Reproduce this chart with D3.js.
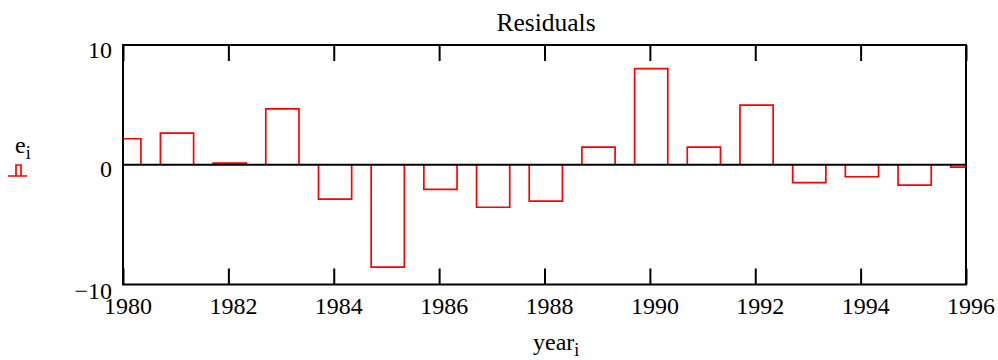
<!DOCTYPE html>
<html>
<head>
<meta charset="utf-8">
<script src="https://cdn.jsdelivr.net/npm/d3@7"></script>
<style>
  body { margin: 0; background: #fff; }
  svg { display: block; }
  svg text { font-family: "Liberation Serif", "Times New Roman", serif; fill: #000; }
</style>
</head>
<body>
<div id="chart"></div>
<script>
// residuals e_i per year_i
const years = [1980, 1981, 1982, 1983, 1984, 1985, 1986, 1987, 1988, 1989, 1990, 1991, 1992, 1993, 1994, 1995, 1996];
const residuals = [2.17, 2.64, 0.13, 4.66, -2.87, -8.55, -2.05, -3.55, -3.04, 1.47, 8.02, 1.47, 4.98, -1.5, -1.0, -1.7, -0.2];
const xTicks = [1980, 1982, 1984, 1986, 1988, 1990, 1992, 1994, 1996];
const yTicks = [10, 0, -10];

const width = 998, height = 360;
const margin = { top: 45, right: 32, bottom: 75.5, left: 123 };
const red = '#ff0000';
const serif = '"Liberation Serif", "Times New Roman", serif';

const svg = d3.select('#chart').append('svg')
  .attr('width', width)
  .attr('height', height)
  .attr('font-family', serif);

const x = d3.scaleLinear()
  .domain([1980, 1996])
  .range([margin.left, width - margin.right]);

const y = d3.scaleLinear()
  .domain([-10, 10])
  .range([height - margin.bottom, margin.top]);

svg.append('defs').append('clipPath')
  .attr('id', 'plot-clip')
  .append('rect')
  .attr('x', x(1980))
  .attr('y', y(10))
  .attr('width', x(1996) - x(1980))
  .attr('height', y(-10) - y(10));

// bars: outline from zero up/down, centred a bit right of the year
const barPath = (d, i) => {
  const x0 = x(years[i] - 0.29), x1 = x(years[i] + 0.34);
  const y0 = y(0), yv = y(d);
  return 'M' + x0 + ',' + y0 + 'L' + x0 + ',' + yv + 'L' + x1 + ',' + yv + 'L' + x1 + ',' + y0;
};

svg.append('g')
  .attr('clip-path', 'url(#plot-clip)')
  .selectAll('path')
  .data(residuals)
  .enter()
  .append('path')
  .attr('d', barPath)
  .attr('fill', 'none')
  .attr('stroke', red)
  .attr('stroke-width', 1.7);

// zero line
svg.append('line')
  .attr('x1', x(1980)).attr('x2', x(1996))
  .attr('y1', y(0)).attr('y2', y(0))
  .attr('stroke', '#000')
  .attr('stroke-width', 2);

// bottom axis (ticks pointing in)
const xAxis = svg.append('g')
  .attr('transform', 'translate(0,' + y(-10) + ')')
  .call(d3.axisBottom(x).tickValues(xTicks).tickFormat(d3.format('d')).tickSizeInner(-16).tickSizeOuter(0));

xAxis.attr('font-family', serif).attr('font-size', null);
xAxis.select('.domain').remove();
xAxis.selectAll('line').attr('stroke', '#000').attr('stroke-width', 2);
xAxis.selectAll('text')
  .attr('y', 29)
  .attr('dy', null)
  .attr('dx', 4.5)
  .style('font-family', serif)
  .style('font-size', '24px');

// top ticks
svg.append('g')
  .attr('transform', 'translate(0,' + y(10) + ')')
  .call(d3.axisTop(x).tickValues(xTicks).tickFormat('').tickSizeInner(-16).tickSizeOuter(0))
  .call(g => g.select('.domain').remove())
  .selectAll('line').attr('stroke', '#000').attr('stroke-width', 2);

// frame
svg.append('rect')
  .attr('x', x(1980))
  .attr('y', y(10))
  .attr('width', x(1996) - x(1980))
  .attr('height', y(-10) - y(10))
  .attr('fill', 'none')
  .attr('stroke', '#000')
  .attr('stroke-width', 2);

// y labels (Mathcad places the end labels hanging inside/below)
const yLabelBase = { '10': 57.5, '0': 176.5, '-10': 298.5 };
svg.append('g')
  .selectAll('text')
  .data(yTicks)
  .enter()
  .append('text')
  .attr('x', x(1980) - 11)
  .attr('y', d => yLabelBase[d])
  .attr('text-anchor', 'end')
  .style('font-family', serif)
  .style('font-size', '24px')
  .text(d => d < 0 ? '\u2212' + Math.abs(d) : d);

// title
svg.append('text')
  .attr('x', 546)
  .attr('y', 31)
  .attr('text-anchor', 'middle')
  .style('font-family', serif)
  .style('font-size', '25.5px')
  .text('Residuals');

// x axis label year_i
const xl = svg.append('text')
  .attr('x', 533)
  .attr('y', 350)
  .style('font-family', serif)
  .style('font-size', '24px');
xl.append('tspan').text('year');
xl.append('tspan').attr('dy', 6).style('font-size', '18px').text('i');

// legend e_i with little bar glyph
const ll = svg.append('text')
  .attr('x', 15)
  .attr('y', 153)
  .style('font-family', serif)
  .style('font-size', '24px');
ll.append('tspan').text('e');
ll.append('tspan').attr('dy', 6).style('font-size', '18px').text('i');

svg.append('path')
  .attr('d', 'M8,176L27,176M16,176L16,165L21,165L21,176')
  .attr('fill', 'none')
  .attr('stroke', red)
  .attr('stroke-width', 1.7);
</script>
</body>
</html>
